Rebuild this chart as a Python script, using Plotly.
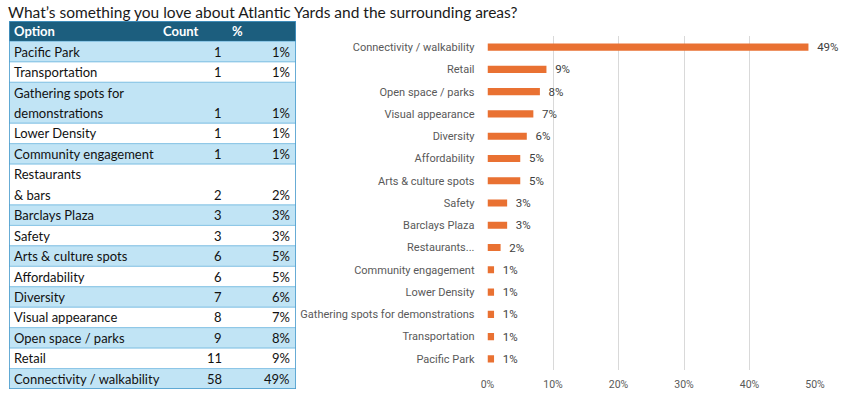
import plotly.graph_objects as go

title = "What’s something you love about Atlantic Yards and the surrounding areas?"

table_options = ["Pacific Park", "Transportation", "Gathering spots for<br>demonstrations",
                 "Lower Density", "Community engagement", "Restaurants<br>& bars",
                 "Barclays Plaza", "Safety", "Arts & culture spots", "Affordability",
                 "Diversity", "Visual appearance", "Open space / parks", "Retail",
                 "Connectivity / walkability"]
bar_labels = ["Pacific Park", "Transportation", "Gathering spots for demonstrations",
              "Lower Density", "Community engagement", "Restaurants...",
              "Barclays Plaza", "Safety", "Arts & culture spots", "Affordability",
              "Diversity", "Visual appearance", "Open space / parks", "Retail",
              "Connectivity / walkability"]
counts = [1, 1, 1, 1, 1, 2, 3, 3, 6, 6, 7, 8, 9, 11, 58]
percents = [1, 1, 1, 1, 1, 2, 3, 3, 5, 5, 6, 7, 8, 9, 49]
headers = ["Option", "Count", "%"]

W, H = 844, 396
HEADER_BG = "#1C5E7E"
LIGHT = "#C1E4F5"
WHITE = "#FFFFFF"
ROWLINE = "#8CC6E6"
BORDER = "#4A9ACB"
ORANGE = "#E97132"
TFONT = "Lato"
CFONT = "Roboto"

# table geometry in table-axis units (x: pixels inside table, y: text lines)
TW = 287
col_left = [3, 152, 221]          # header text starts
val_right = [None, 215, 283]      # right edge of right-aligned values
nlines = [o.count("<br>") + 1 for o in table_options]
total_lines = 1 + sum(nlines)

fig = go.Figure()

# ---- bar chart ----
fig.add_trace(go.Bar(
    y=bar_labels,
    x=percents,
    orientation="h",
    marker=dict(color=ORANGE, line=dict(width=0)),
    text=[f"\u00a0\u00a0{p}%" for p in percents],
    textposition="outside",
    constraintext="none",
    textfont=dict(family=CFONT, size=11.5, color="#404040"),
    cliponaxis=False,
    width=0.32,
    hoverinfo="skip",
    xaxis="x", yaxis="y",
))

shapes = []
annotations = []

# ---- table (drawn on its own hidden axes) ----
shapes.append(dict(type="rect", xref="x2", yref="y2", x0=0, x1=TW, y0=0, y1=1,
                   fillcolor=HEADER_BG, line=dict(width=0), layer="below"))
for h, xl in zip(headers, col_left):
    annotations.append(dict(xref="x2", yref="y2", x=xl, y=0.5, text=f"<b>{h}</b>",
                            showarrow=False, xanchor="left", yanchor="middle",
                            font=dict(family=TFONT, size=13, color="white")))
y = 1
for i, (opt, n, c, p) in enumerate(zip(table_options, nlines, counts, percents)):
    fill = LIGHT if i % 2 == 0 else WHITE
    shapes.append(dict(type="rect", xref="x2", yref="y2", x0=0, x1=TW, y0=y, y1=y + n,
                       fillcolor=fill, line=dict(color=ROWLINE, width=1), layer="below"))
    for k, part in enumerate(opt.split("<br>")):
        annotations.append(dict(xref="x2", yref="y2", x=col_left[0], y=y + k + 0.5,
                                text=part, showarrow=False, xanchor="left",
                                yanchor="middle",
                                font=dict(family=TFONT, size=13, color="#111111")))
    annotations.append(dict(xref="x2", yref="y2", x=val_right[1], y=y + n - 0.5,
                            text=str(c), showarrow=False, xanchor="right",
                            yanchor="middle",
                            font=dict(family=TFONT, size=13, color="#111111")))
    annotations.append(dict(xref="x2", yref="y2", x=val_right[2], y=y + n - 0.5,
                            text=f"{p}%", showarrow=False, xanchor="right",
                            yanchor="middle",
                            font=dict(family=TFONT, size=13, color="#111111")))
    y += n
shapes.append(dict(type="rect", xref="x2", yref="y2", x0=0, x1=TW, y0=0, y1=total_lines,
                   fillcolor="rgba(0,0,0,0)", line=dict(color=BORDER, width=1.5),
                   layer="above"))

fig.update_layout(
    width=W, height=H,
    margin=dict(l=0, r=0, t=0, b=0),
    paper_bgcolor="white",
    plot_bgcolor="white",
    showlegend=False,
    title=dict(text=title, x=8 / W, xanchor="left", y=1 - 13 / H, yanchor="middle",
               font=dict(family=TFONT, size=15.5, color="#1a1a1a")),
    xaxis=dict(domain=[487.5 / W, 815 / W], range=[0, 50], dtick=10, ticksuffix="%",
               showgrid=True, gridcolor="#D9D9D9", gridwidth=1, zeroline=False,
               showline=False, tickfont=dict(family=CFONT, size=10.5, color="#595959"),
               ticks="", ticklabelstandoff=6, automargin=False, anchor="y"),
    yaxis=dict(domain=[1 - 370 / H, 1 - 36 / H], range=[-0.5, 14.5],
               showgrid=False, zeroline=False, showline=False, ticks="",
               tickfont=dict(family=CFONT, size=11, color="#595959"),
               ticklabelstandoff=12, automargin=False, anchor="x"),
    xaxis2=dict(domain=[9 / W, 296 / W], range=[0, TW], visible=False, anchor="y2",
                fixedrange=True),
    yaxis2=dict(domain=[1 - 389 / H, 1 - 21 / H], range=[total_lines, 0], visible=False,
                anchor="x2", fixedrange=True),
    shapes=shapes,
    annotations=annotations,
)

fig.write_html("out.html", config={"displayModeBar": False},
               post_script="document.body.style.margin='0';")
